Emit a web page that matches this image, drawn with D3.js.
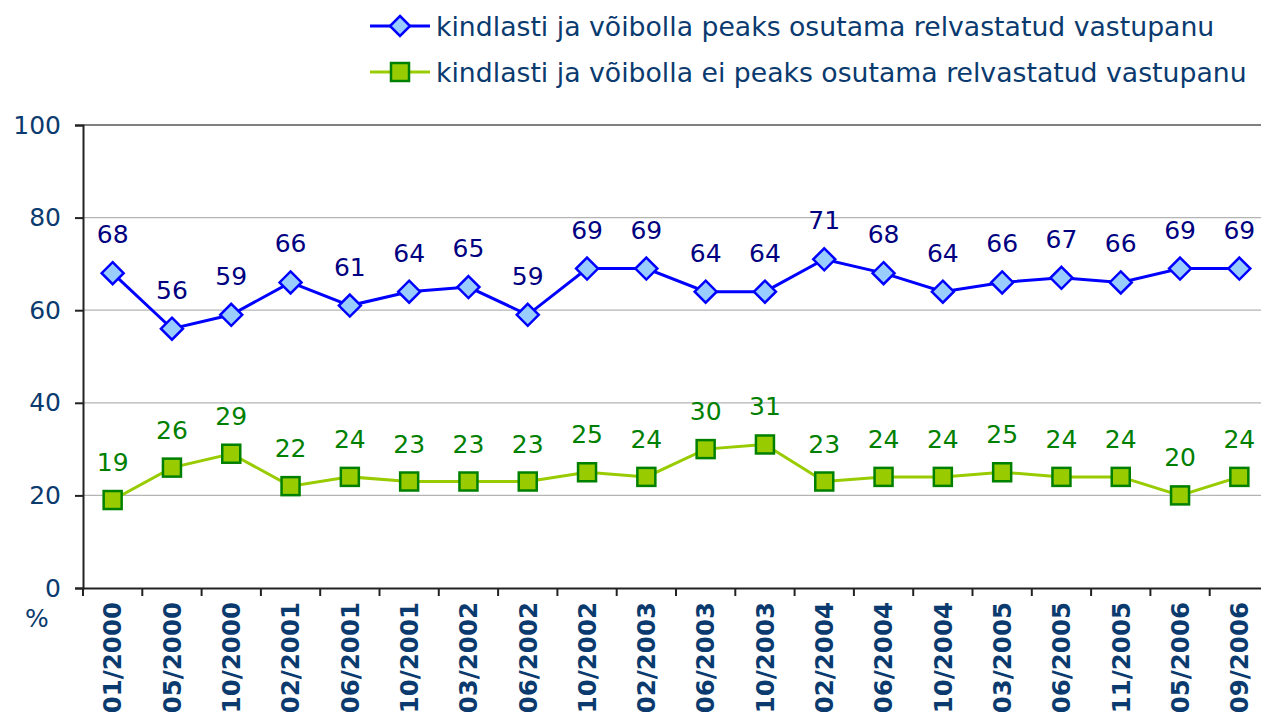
<!DOCTYPE html>
<html>
<head>
<meta charset="utf-8">
<script src="https://cdn.jsdelivr.net/npm/d3@7"></script>
<style>
  body { margin: 0; background: #fff; overflow: hidden; }
  svg { display: block; font-family: "DejaVu Sans", Verdana, sans-serif; }
</style>
</head>
<body>
<div id="chart"></div>
<script>
const categories = ["01/2000", "05/2000", "10/2000", "02/2001", "06/2001", "10/2001", "03/2002",
    "06/2002", "10/2002", "02/2003", "06/2003", "10/2003", "02/2004", "06/2004", "10/2004",
    "03/2005", "06/2005", "11/2005", "05/2006", "09/2006"];
const seriesNames = [
    "kindlasti ja võibolla peaks osutama relvastatud vastupanu",
    "kindlasti ja võibolla ei peaks osutama relvastatud vastupanu"
];
const yesValues = [68, 56, 59, 66, 61, 64, 65, 59, 69, 69, 64, 64, 71, 68, 64, 66, 67, 66, 69, 69];
const noValues = [19, 26, 29, 22, 24, 23, 23, 23, 25, 24, 30, 31, 23, 24, 24, 25, 24, 24, 20, 24];
const yTicks = [0, 20, 40, 60, 80, 100];

const width = 1261, height = 727;
const margin = {left: 83, top: 125, bottom: 588};
const step = 59.3;

const svg = d3.select("#chart").append("svg").attr("width", width).attr("height", height);

const x = d3.scaleBand().domain(categories)
    .range([margin.left, margin.left + step * categories.length]).padding(0);
const y = d3.scaleLinear().domain([0, 100]).range([margin.bottom, margin.top]);
const xEnd = margin.left + step * categories.length;

// grid
svg.append("g").selectAll("line").data(yTicks.filter(d => d > 0)).enter().append("line")
    .attr("x1", margin.left).attr("x2", xEnd)
    .attr("y1", d => y(d)).attr("y2", d => y(d))
    .attr("stroke", d => d === 100 ? "#808080" : "#b4b4b4")
    .attr("stroke-width", d => d === 100 ? 2 : 1.2);

// y axis
const yAxis = svg.append("g").attr("transform", `translate(${margin.left},0)`)
    .call(d3.axisLeft(y).tickValues(yTicks).tickSize(8).tickPadding(14));
yAxis.attr("font-size", null).attr("font-family", null);
yAxis.select(".domain").attr("stroke", "#222").attr("stroke-width", 2);
yAxis.selectAll(".tick line").attr("stroke", "#222").attr("stroke-width", 2);
yAxis.selectAll(".tick text").attr("fill", "#0a3a6e").style("font-size", "25px");

// x axis (labels a bit smaller than the reference so they are not cut at the bottom)
const xAxis = svg.append("g").attr("transform", `translate(0,${margin.bottom})`)
    .call(d3.axisBottom(x).tickSize(0));
xAxis.attr("font-size", null).attr("font-family", null);
xAxis.select(".domain").attr("stroke", "#222").attr("stroke-width", 2);
xAxis.selectAll(".tick text")
    .attr("transform", "rotate(-90)")
    .attr("text-anchor", "end")
    .attr("x", -14).attr("y", 0).attr("dy", "0.36em")
    .attr("fill", "#0a3a6e")
    .style("font-size", "24.5px").style("font-weight", "bold");
svg.append("g").selectAll("line").data(d3.range(categories.length + 1)).enter().append("line")
    .attr("x1", i => margin.left + i * step).attr("x2", i => margin.left + i * step)
    .attr("y1", margin.bottom).attr("y2", margin.bottom + 8)
    .attr("stroke", "#222").attr("stroke-width", 2);

svg.append("text").attr("x", 37).attr("y", 627).attr("text-anchor", "middle")
    .attr("fill", "#0a3a6e").style("font-size", "25px").text("%");

const cx = d => x(d) + x.bandwidth() / 2;
const line = vals => d3.line().x((d, i) => cx(categories[i])).y(d => y(d))(vals);

// green series
svg.append("path").attr("d", line(noValues)).attr("fill", "none")
    .attr("stroke", "#99cc00").attr("stroke-width", 3);
svg.append("g").selectAll("rect").data(noValues).enter().append("rect")
    .attr("x", (d, i) => cx(categories[i]) - 9).attr("y", d => y(d) - 9)
    .attr("width", 18).attr("height", 18)
    .attr("fill", "#99cc00").attr("stroke", "#008000").attr("stroke-width", 2.5);
svg.append("g").selectAll("text").data(noValues).enter().append("text")
    .attr("x", (d, i) => cx(categories[i])).attr("y", d => y(d) - 29)
    .attr("text-anchor", "middle").attr("fill", "#008000")
    .style("font-size", "25px").text(d => d);

// blue series
svg.append("path").attr("d", line(yesValues)).attr("fill", "none")
    .attr("stroke", "#0000ff").attr("stroke-width", 3);
const diamond = (px, py, r) => `M${px},${py - r}L${px + r},${py}L${px},${py + r}L${px - r},${py}Z`;
svg.append("g").selectAll("path").data(yesValues).enter().append("path")
    .attr("d", (d, i) => diamond(cx(categories[i]), y(d), 11))
    .attr("fill", "#99ccff").attr("stroke", "#0000ff").attr("stroke-width", 2.5);
svg.append("g").selectAll("text").data(yesValues).enter().append("text")
    .attr("x", (d, i) => cx(categories[i])).attr("y", d => y(d) - 30)
    .attr("text-anchor", "middle").attr("fill", "#000080")
    .style("font-size", "25px").text(d => d);

// legend
const legend = svg.append("g");
const legY = [26, 72];
legend.append("line").attr("x1", 370).attr("x2", 430).attr("y1", legY[0]).attr("y2", legY[0])
    .attr("stroke", "#0000ff").attr("stroke-width", 3);
legend.append("path").attr("d", diamond(400, legY[0], 10))
    .attr("fill", "#99ccff").attr("stroke", "#0000ff").attr("stroke-width", 2.5);
legend.append("line").attr("x1", 370).attr("x2", 430).attr("y1", legY[1]).attr("y2", legY[1])
    .attr("stroke", "#99cc00").attr("stroke-width", 3);
legend.append("rect").attr("x", 391).attr("y", legY[1] - 9).attr("width", 18).attr("height", 18)
    .attr("fill", "#99cc00").attr("stroke", "#008000").attr("stroke-width", 2.5);
legend.selectAll("text").data(seriesNames).enter().append("text")
    .attr("x", 436).attr("y", (d, i) => legY[i]).attr("dy", "0.36em")
    .attr("fill", "#0a3a6e").style("font-size", "26.7px").text(d => d);
</script>
</body>
</html>
